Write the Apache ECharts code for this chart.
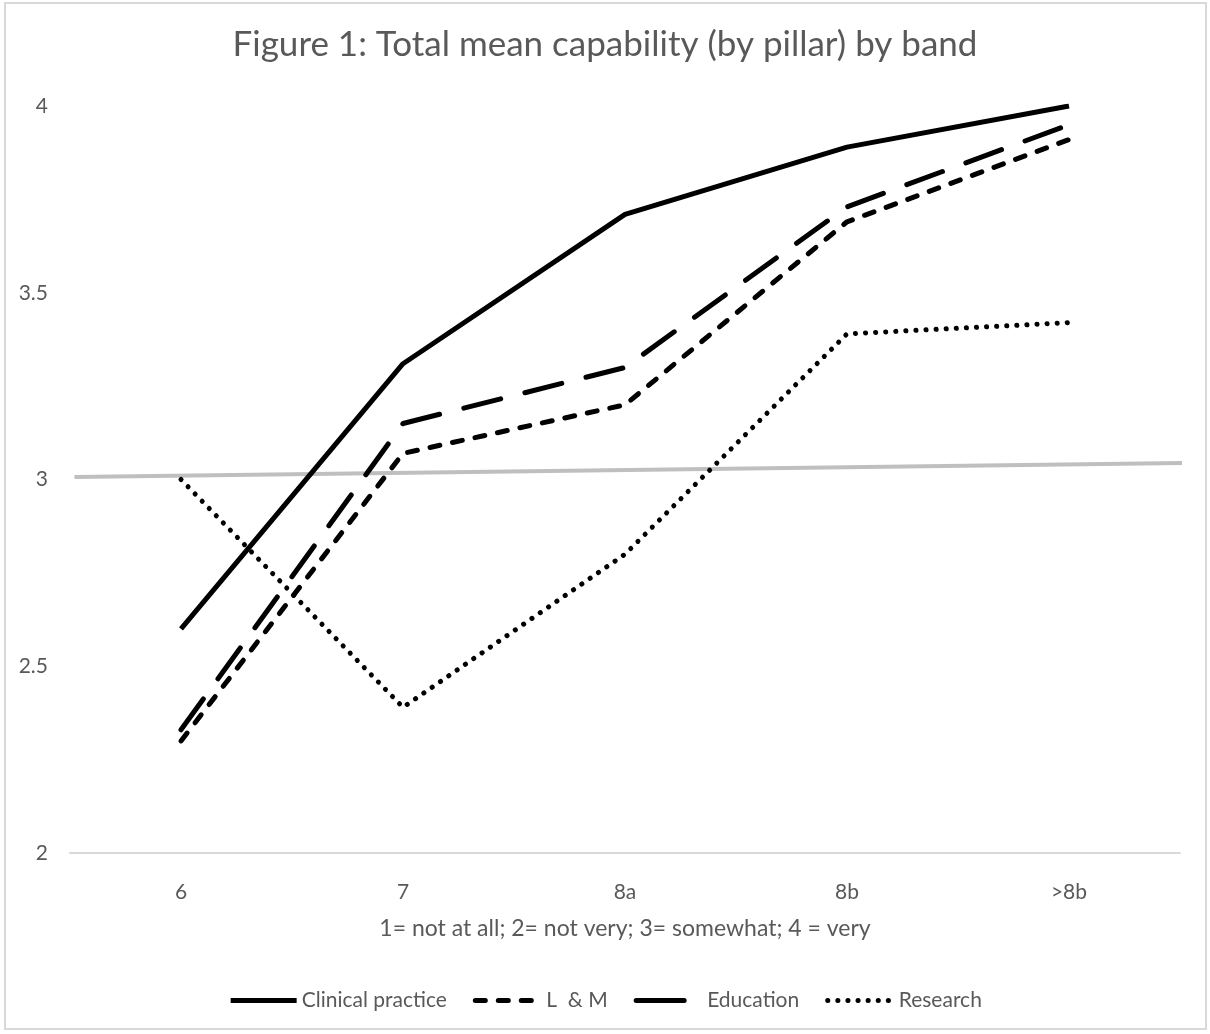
<!DOCTYPE html>
<html><head><meta charset="utf-8">
<script src="https://cdn.jsdelivr.net/npm/echarts@6/dist/echarts.min.js"></script>
<style>html,body{margin:0;padding:0;background:#fff}#c{width:1210px;height:1034px}</style>
</head><body><div id="c"></div>
<script>
const categories = ['6', '7', '8a', '8b', '>8b'];
const clinical = [2.60, 3.31, 3.71, 3.89, 4.00];
const lm = [2.30, 3.07, 3.20, 3.69, 3.91];
const education = [2.33, 3.15, 3.30, 3.73, 3.95];
const research = [3.00, 2.39, 2.80, 3.39, 3.42];
const refLineX = [-0.48, 4.52];
const refLineY = [3.007, 3.044];
const yTicks = { min: 2, max: 4, interval: 0.5 };

const font = 'Lato';
const chart = echarts.init(document.getElementById('c'));
const mk = (name, data, type) => ({
  name, type: 'line', data, symbol: 'none', xAxisIndex: 0,
  lineStyle: { color: '#000', width: 5, type, cap: type === 'solid' ? 'butt' : 'round' },
  itemStyle: { color: '#000' }
});
chart.setOption({
  animation: false,
  textStyle: { fontFamily: font },
  title: { text: 'Figure 1: Total mean capability (by pillar) by band', left: 'center', top: 22,
    textStyle: { fontFamily: font, fontSize: 35, fontWeight: 'normal', color: '#595959' } },
  graphic: [{ type: 'rect', shape: { x: 5, y: 3, width: 1201, height: 1026 },
    style: { fill: null, stroke: '#d9d9d9', lineWidth: 2 }, silent: true }],
  grid: { left: 70, right: 30, top: 106, bottom: 181 },
  legend: { bottom: 18, left: 'center', itemWidth: 66, itemHeight: 14, itemGap: 26,
    itemStyle: { opacity: 0 },
    lineStyle: { width: 5 },
    textStyle: { fontFamily: font, fontSize: 21, color: '#595959' },
    data: ['Clinical practice', 'L  & M',
      { name: 'Education', lineStyle: { type: [48, 40], width: 5 } }, 'Research'] },
  xAxis: [{
    type: 'category', data: categories, boundaryGap: true,
    axisLine: { lineStyle: { color: '#d9d9d9', width: 2 } }, axisTick: { show: false },
    axisLabel: { color: '#595959', fontSize: 21, margin: 29 },
    name: '1= not at all; 2= not very; 3= somewhat; 4 = very', nameLocation: 'middle', nameGap: 64,
    nameTextStyle: { color: '#595959', fontSize: 23, fontFamily: font }
  }, {
    type: 'value', min: -0.5, max: 4.5, show: false
  }],
  yAxis: { type: 'value', min: yTicks.min, max: yTicks.max, interval: yTicks.interval,
    axisLine: { show: false }, axisTick: { show: false }, splitLine: { show: false },
    axisLabel: { color: '#595959', fontSize: 21, margin: 22 } },
  series: [
    { name: 'ref', type: 'line', xAxisIndex: 1, clip: false, symbol: 'none', silent: true,
      data: refLineX.map((x, i) => [x, refLineY[i]]),
      lineStyle: { color: '#bfbfbf', width: 4 }, z: 1 },
    mk('Clinical practice', clinical, 'solid'),
    mk('L  & M', lm, [10, 13]),
    mk('Education', education, [38, 25]),
    mk('Research', research, [0.1, 10])
  ]
});
</script></body></html>
